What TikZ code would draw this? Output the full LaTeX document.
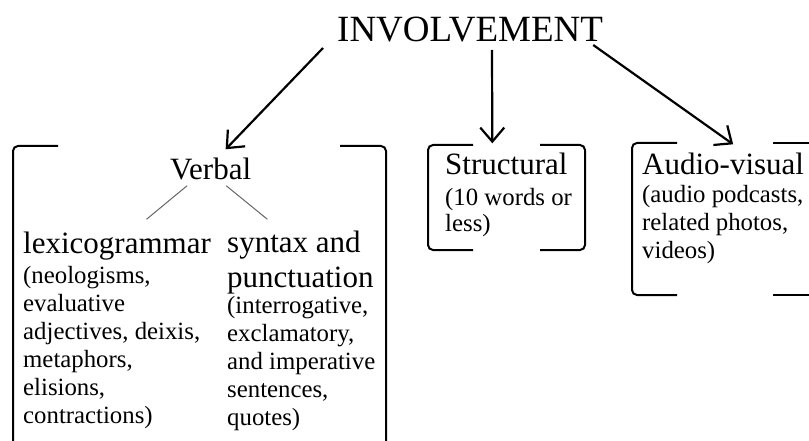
\documentclass[tikz,border=0pt]{standalone}
\usepackage{fontspec}
\setmainfont{Liberation Serif}
\usetikzlibrary{arrows.meta}
\tikzset{
  head/.style={anchor=base west, inner sep=0pt, align=left, font=\fontsize{31}{35}\selectfont},
  notes/.style={anchor=base west, inner sep=0pt, align=left, font=\fontsize{24.8}{28}\selectfont},
  brack/.style={line width=2pt, rounded corners=5pt},
  arr/.style={line width=2.2pt, -{Straight Barb[length=14pt,width=24pt]}},
  branch/.style={line width=1pt, black!60},
}
\begin{document}
\begin{tikzpicture}[x=1pt,y=-1pt]
  \useasboundingbox (0,0) rectangle (809,441);
  \node[anchor=base west, inner sep=0pt, font=\fontsize{37}{40}\selectfont] (involvement) at (337,42) {INVOLVEMENT};
  % verbal (multi-line nodes sit on their last baseline)
  \node[head] (verbal) at (170,179) {Verbal};
  \node[head] (lexico) at (23,253) {lexicogrammar};
  \node[notes] (lexiconotes) at (23,423) {(neologisms,\\evaluative\\adjectives, deixis,\\metaphors,\\elisions,\\contractions)};
  \node[head] (syntax) at (227,287) {syntax and\\punctuation};
  \node[notes] (syntaxnotes) at (227,425) {(interrogative,\\exclamatory,\\and imperative\\sentences,\\quotes)};
  % structural
  \node[head] (structural) at (445,175) {Structural};
  \node[notes, font=\fontsize{24.8}{26}\selectfont] (structuralnotes) at (445,231) {(10 words or\\less)};
  % audio-visual
  \node[head] (audiovisual) at (642,175) {Audio-visual};
  \node[notes, font=\fontsize{24.8}{27.5}\selectfont] (audiovisualnotes) at (642,258) {(audio podcasts,\\related photos,\\videos)};
  % brackets
  \draw[brack] (58,146) -- (13,146) -- (13,441);
  \draw[brack] (340,146) -- (386,146) -- (386,441);
  \draw[brack] (473,145) -- (428,145) -- (428,250) -- (473,250);
  \draw[brack] (540,145) -- (585,145) -- (585,250) -- (540,250);
  \draw[brack] (677,143) -- (632,143) -- (632,295) -- (677,295);
  \draw[brack] (773,143) -- (809,143);
  \draw[brack] (773,295) -- (809,295);
  % arrows
  \draw[arr] ([shift={(-14,6)}]involvement.base west) -- ([shift={(15,-8)}]verbal.north);
  \draw[arr] ([shift={(155,8)}]involvement.base west) -- ([shift={(-14,-10)}]structural.north);
  \draw[arr] ([shift={(-10,3)}]involvement.base east) -- ([shift={(10,-9)}]audiovisual.north);
  \draw[branch] ([shift={(-23.5,6)}]verbal.south) -- ([shift={(29.5,-12)}]lexico.north);
  \draw[branch] ([shift={(15.5,6)}]verbal.south) -- ([shift={(-33,-11)}]syntax.north);
\end{tikzpicture}
\end{document}
